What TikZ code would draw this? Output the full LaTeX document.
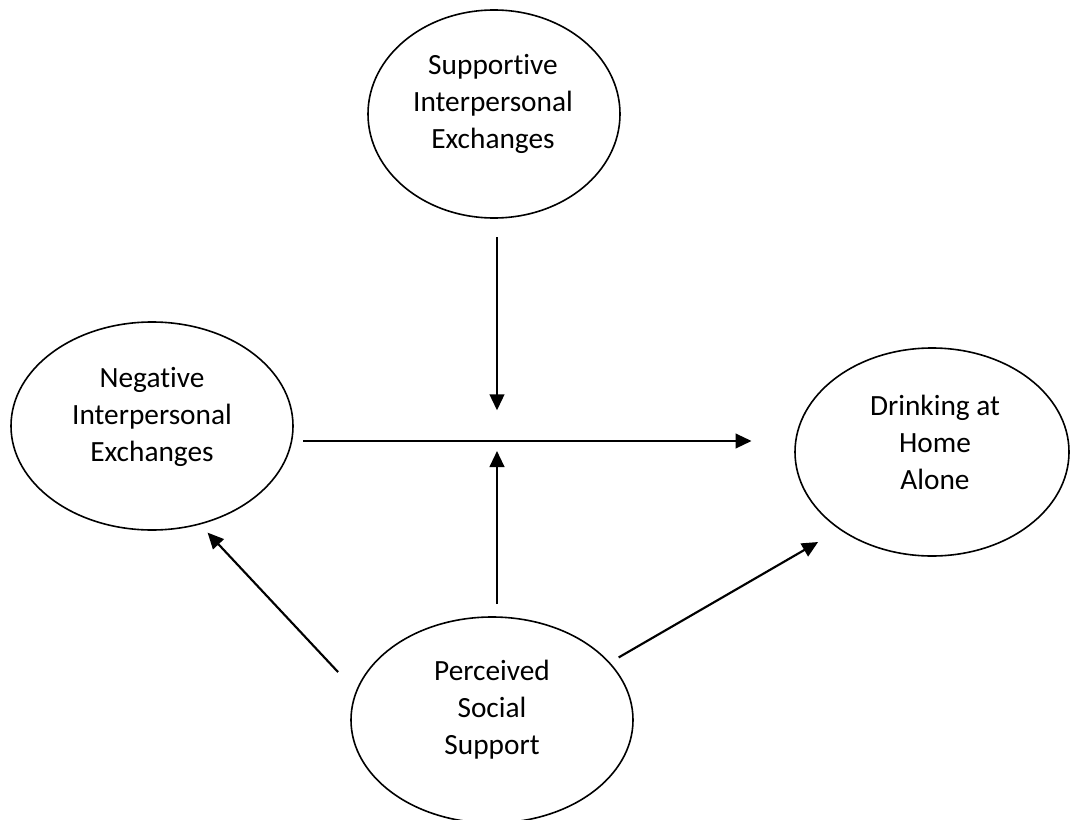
\documentclass[tikz,border=0pt]{standalone}
\usepackage{fontspec}
\setmainfont{Carlito}[Ligatures=NoCommon]
\usetikzlibrary{shapes.geometric,arrows.meta}

\begin{document}
\begin{tikzpicture}[x=0.75pt,y=-0.75pt,
        var/.style={ellipse, draw, line width=1.2pt, minimum height=156pt, inner sep=0pt},
        vartext/.style={align=center, font=\fontsize{22}{27.75}\selectfont},
        arr/.style={-{Triangle[length=12pt,width=11pt]}, line width=1.6pt}]
        \useasboundingbox (0,0) rectangle (1070,820);

        \node[var, minimum width=189pt] (sup) at (494,114) {};
        \node[var, minimum width=211.5pt] (neg) at (152,426) {};
        \node[var, minimum width=205.5pt] (drk) at (932,452) {};
        \node[var, minimum width=211.5pt, minimum height=154.5pt] (pss) at (492,720) {};

        \node[vartext] (suptext) at (493,104) {Supportive\\Interpersonal\\Exchanges};
        \node[vartext] (negtext) at (152,417) {Negative\\Interpersonal\\Exchanges};
        \node[vartext] (drktext) at (935,442) {Drinking at\\Home\\Alone};
        \node[vartext] (psstext) at (492,710) {Perceived\\Social\\Support};

        \coordinate (mid) at (497,441);

        \draw[arr, shorten <=7pt, shorten >=32pt] (neg.east |- mid) -- (drk.west |- mid);
        \draw[arr, shorten <=14pt, shorten >=23pt] (sup.south -| mid) -- (mid);
        \draw[arr, shorten <=9pt, shorten >=7.5pt] (pss.north -| mid) -- (mid);

        \draw[arr, shorten <=19.5pt, shorten >=8.25pt] (pss.168) -- (neg.-64);
        \draw[arr, shorten <=7.5pt, shorten >=18.5pt] (pss.26) -- (drk.-140);
    \end{tikzpicture}
\end{document}
